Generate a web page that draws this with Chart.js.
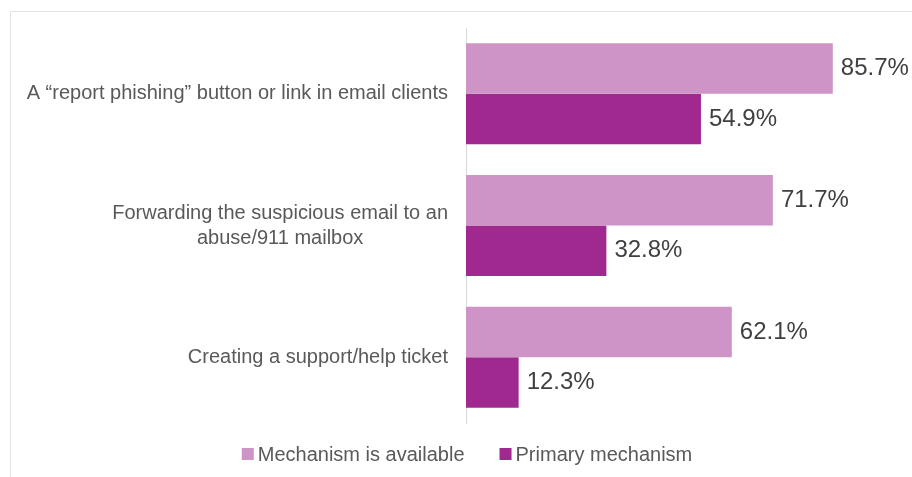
<!DOCTYPE html>
<html>
<head>
<meta charset="utf-8">
<script src="https://cdn.jsdelivr.net/npm/chart.js@4.4.1/dist/chart.umd.min.js"></script>
<style>
    html, body { margin: 0; padding: 0; background: #fff; }
    #wrap { position: relative; width: 912px; height: 477px; }
    #frame {
        position: absolute; left: 10px; top: 11px; right: -2px; bottom: -2px;
        border-left: 1px solid #e3e3e3; border-top: 1px solid #e3e3e3;
    }
    #chart { position: absolute; left: 0; top: 0; }
</style>
</head>
<body>
<div id="wrap">
    <div id="frame"></div>
    <canvas id="chart" width="912" height="477"></canvas>
</div>
<script>
const categories = [
    ['A \u201creport phishing\u201d button or link in email clients'],
    ['Forwarding the suspicious email to an', 'abuse/911 mailbox'],
    ['Creating a support/help ticket']
];
const seriesNames = ['Mechanism is available', 'Primary mechanism'];
const available = [85.7, 71.7, 62.1];
const primary = [54.9, 32.8, 12.3];
const seriesColors = ['#ce94c7', '#a0298f'];

const FONT = "'Liberation Sans', Arial, sans-serif";

// category labels: each block right edge at the same x, lines centred within the block
const categoryLabels = {
    id: 'categoryLabels',
    afterDraw(chart) {
        const ctx = chart.ctx;
        const yScale = chart.scales.y;
        const right = chart.chartArea.left - 18;
        const lineH = 25;
        ctx.save();
        ctx.font = '20px ' + FONT;
        ctx.fillStyle = '#595959';
        ctx.textAlign = 'center';
        ctx.textBaseline = 'middle';
        categories.forEach(function(lines, i) {
            const widest = Math.max.apply(null, lines.map(l => ctx.measureText(l).width));
            const cx = right - widest / 2;
            const cy = yScale.getPixelForTick(i);
            const top = cy - (lines.length - 1) * lineH / 2;
            lines.forEach(function(line, j) {
                ctx.fillText(line, cx, top + j * lineH);
            });
        });
        ctx.restore();
    }
};

// value labels at the end of every bar
const valueLabels = {
    id: 'valueLabels',
    afterDatasetsDraw(chart) {
        const ctx = chart.ctx;
        ctx.save();
        ctx.font = '24px ' + FONT;
        ctx.fillStyle = '#404040';
        ctx.textAlign = 'left';
        ctx.textBaseline = 'middle';
        chart.data.datasets.forEach(function(ds, di) {
            chart.getDatasetMeta(di).data.forEach(function(bar, i) {
                ctx.fillText(ds.data[i].toFixed(1) + '%', bar.x + 8, bar.y);
            });
        });
        ctx.restore();
    }
};

// legend row under the plot: small squares, tight gap to text
const bottomLegend = {
    id: 'bottomLegend',
    afterDraw(chart) {
        const ctx = chart.ctx;
        const box = 12, gap = 4, itemGap = 35;
        const centerX = 467, y = 454;
        ctx.save();
        ctx.font = '20px ' + FONT;
        ctx.textBaseline = 'middle';
        ctx.textAlign = 'left';
        const items = chart.data.datasets.map(ds => ({
            text: ds.label, color: ds.backgroundColor, w: ctx.measureText(ds.label).width
        }));
        let total = items.reduce((s, it) => s + box + gap + it.w, 0) + itemGap * (items.length - 1);
        let x = centerX - total / 2;
        items.forEach(function(it) {
            ctx.fillStyle = it.color;
            ctx.fillRect(x, y - box / 2, box, box);
            ctx.fillStyle = '#595959';
            ctx.fillText(it.text, x + box + gap, y + 1);
            x += box + gap + it.w + itemGap;
        });
        ctx.restore();
    }
};

new Chart(document.getElementById('chart'), {
    type: 'bar',
    data: {
        labels: categories,
        datasets: [
            { label: seriesNames[0], data: available, backgroundColor: seriesColors[0] },
            { label: seriesNames[1], data: primary, backgroundColor: seriesColors[1] }
        ]
    },
    options: {
        indexAxis: 'y',
        responsive: false,
        animation: false,
        datasets: {
            bar: { categoryPercentage: 0.767, barPercentage: 1.0 }
        },
        layout: { padding: { left: 0, right: 18, top: 28, bottom: 54 } },
        scales: {
            x: { display: false, min: 0, max: 100 },
            y: {
                grid: { display: false },
                border: { display: true, color: '#d9d9d9', width: 1 },
                ticks: { display: false },
                afterFit(scale) { scale.width = 466; }
            }
        },
        plugins: {
            legend: { display: false },
            tooltip: { enabled: false }
        }
    },
    plugins: [categoryLabels, valueLabels, bottomLegend]
});
</script>
</body>
</html>
